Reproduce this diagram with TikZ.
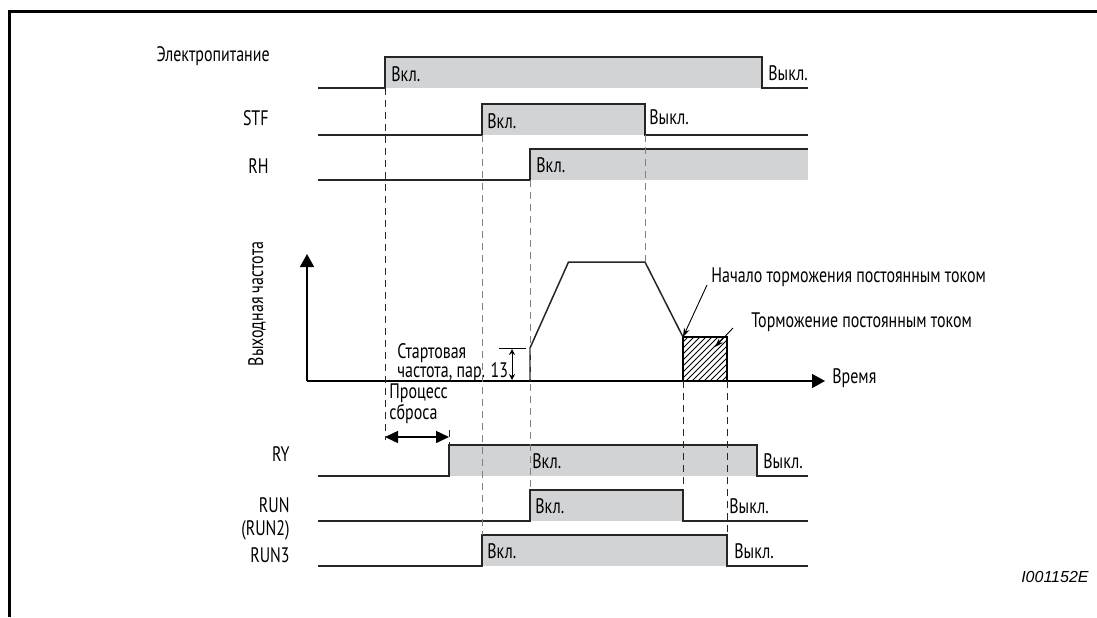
\documentclass[tikz,border=0pt]{standalone}
\usepackage{fontspec}
\setmainfont{PT Sans}[FakeStretch=0.76]
\newfontfamily\codefont{Liberation Sans}
\usetikzlibrary{positioning, arrows.meta, patterns}
\definecolor{ongray}{RGB}{210,211,213}

\begin{document}
\begin{tikzpicture}[
        x=0.5pt, y=-0.5pt,
        font=\fontsize{10.5}{12}\selectfont,
        sig/.style={line width=0.75pt, draw=black!85, line join=miter},
        onfill/.style={fill=ongray, draw=none},
        guide/.style={dash pattern=on 3.5pt off 2.5pt, line width=0.45pt, draw=black!85},
        guidegray/.style={guide, draw=black!50},
        signame/.style={anchor=east, inner sep=0pt, align=right},
        state/.style={anchor=west, inner sep=0pt},
        note/.style={anchor=west, inner sep=0pt, align=left, font=\fontsize{10.5}{9.6}\selectfont},
        axis/.style={-{Triangle[length=6.5pt, width=7pt]}, line width=0.75pt},
        span/.style={{Triangle[length=6.5pt, width=6pt]}-{Triangle[length=6.5pt, width=6pt]}, line width=0.75pt},
        small_span/.style={{Stealth[length=3pt, width=3pt]}-{Stealth[length=3pt, width=3pt]}, line width=0.45pt},
        pointer/.style={-{Stealth[length=4.5pt, width=3pt]}, line width=0.45pt}
    ]
    \useasboundingbox (0,0) rectangle (1097,617);

    % frame
    \draw[line width=1.3pt] (9.5,617) -- (9.5,11.5) -- (1097,11.5);

    % signal rows: low / high / on / off
    \foreach \lo/\hi/\on/\off in {88/57/385/762, 135/104/482/645, 476/445/449/757, 521/490/530/683, 566/535/482/727} {
        \fill[onfill] (\on,\hi) rectangle (\off,\lo);
        \draw[sig] (318,\lo) -- (\on,\lo) -- (\on,\hi) -- (\off,\hi) -- (\off,\lo) -- (808,\lo);
    }
    \fill[onfill] (530,149) rectangle (808,180);
    \draw[sig] (318,180) -- (530,180) -- (530,149) -- (808,149);

    % signal names
    \node[signame] (power) at (270,56) {Электропитание};
    \node[signame] (stf) at (269,118) {STF};
    \node[signame] (rh) at (269,166) {RH};
    \node[signame] (ry) at (290,454) {RY};
    \node[signame] (run) at (290,505) {RUN};
    \node[signame] (run2) at (290,530) {(RUN2)};
    \node[signame] (run3) at (290,555) {RUN3};

    % on / off states
    \node[state] (power_on) at (391,74) {Вкл.};
    \node[state] (power_off) at (768,73) {Выкл.};
    \node[state] (stf_on) at (487,121) {Вкл.};
    \node[state] (stf_off) at (649,117) {Выкл.};
    \node[state] (rh_on) at (536,165) {Вкл.};
    \node[state] (ry_on) at (532,461) {Вкл.};
    \node[state] (ry_off) at (763,461) {Выкл.};
    \node[state] (run_on) at (535,506) {Вкл.};
    \node[state] (run_off) at (729,506) {Выкл.};
    \node[state] (run3_on) at (487,551) {Вкл.};
    \node[state] (run3_off) at (734,551) {Выкл.};

    % output frequency
    \coordinate (origin) at (307,381);
    \coordinate (f0) at (530,381);
    \coordinate (f1) at (530,348);
    \coordinate (f2) at (568.5,262);
    \coordinate (f3) at (645,262);
    \coordinate (f4) at (683,337);
    \coordinate (f5) at (727,381);
    \draw[axis] (origin) -- (307,254);
    \draw[axis] (origin) -- (825,381);
    \node[rotate=90, inner sep=0pt] (fout) at (257,304) {Выходная частота};
    \node[state] (time) at (832,378) {Время};

    \draw[pattern=north east lines, line width=0.75pt] (f4) rectangle (f5);
    \draw[sig] (f0) -- (f1) -- (f2) -- (f3) -- (f4);

    % start frequency
    \coordinate (fs_a) at (499,348);
    \coordinate (fs_b) at (526,348);
    \draw[line width=0.45pt] (fs_a) -- (fs_b);
    \draw[small_span] (512,349) -- (512,380);
    \node[note] (fstart) at (397,363) {Стартовая\\частота, пар. 13};

    % reset
    \node[note] (reset) at (389,404) {Процесс\\сброса};
    \draw[span] (385,437) -- (449,437);

    % guides
    \foreach \x/\a/\b in {385/88/440, 683/381/490, 727/381/535, 449/430/445}
        \draw[guide] (\x,\a) -- (\x,\b);
    \foreach \x/\a/\b in {482/135/535, 530/180/490, 645/135/262}
        \draw[guidegray] (\x,\a) -- (\x,\b);

    % braking notes
    \node[note] (brake_start) at (711,277) {Начало торможения постоянным током};
    \node[note] (brake) at (751,322) {Торможение постоянным током};
    \draw[pointer] ([shift={(-4,8)}]brake_start.west) -- (f4);
    \draw[pointer] ([shift={(-18,6)}]brake.west) -- (715,347);

    \node[anchor=east, inner sep=0pt, font=\codefont\itshape\fontsize{8}{9}\selectfont] (figid) at (1089,577) {I001152E};
\end{tikzpicture}
\end{document}
